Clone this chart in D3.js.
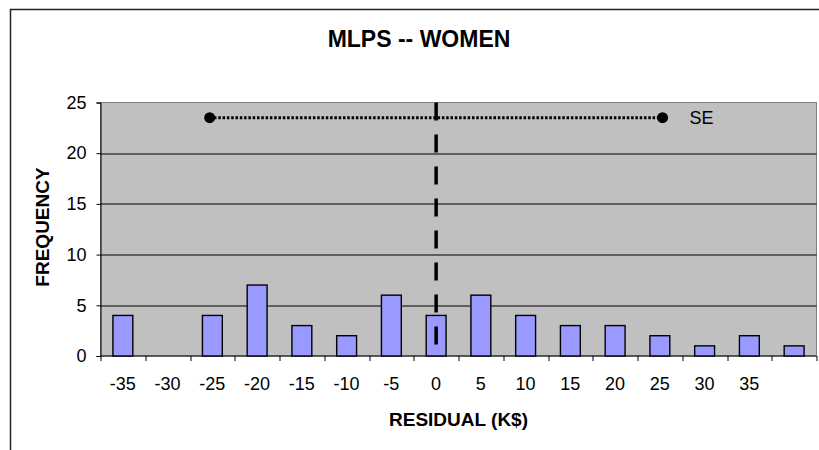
<!DOCTYPE html>
<html>
<head>
<meta charset="utf-8">
<script src="https://cdn.jsdelivr.net/npm/d3@7"></script>
<style>
  body { margin: 0; background: #fff; }
  text { font-family: "Liberation Sans", Arial, sans-serif; fill: #000; }
</style>
</head>
<body>
<div id="vis"></div>
<script>
// residual bins (K$) and counts
var residualBins = [-35, -30, -25, -20, -15, -10, -5, 0, 5, 10, 15, 20, 25, 30, 35, 40];
var frequency = [4, 0, 4, 7, 3, 2, 6, 4, 6, 4, 3, 3, 2, 1, 2, 1];
var binLabels = ["-35", "-30", "-25", "-20", "-15", "-10", "-5", "0", "5", "10", "15", "20", "25", "30", "35", ""];
var yTicks = [0, 5, 10, 15, 20, 25];
var seLimits = [-25.3, 25.3];
var seLevel = 23.5;

var width = 819,
    height = 450,
    margin = {top: 102.5, right: 2.5, bottom: 94, left: 100.5},
    drawWidth = width - margin.left - margin.right,
    drawHeight = height - margin.top - margin.bottom;

var svg = d3.select("#vis").append("svg")
    .attr("width", width)
    .attr("height", height);

// chart border
svg.append("rect")
    .attr("x", 10.5).attr("y", 9.5)
    .attr("width", 830).attr("height", 470)
    .attr("fill", "#fff")
    .attr("stroke", "#222")
    .attr("stroke-width", 1.5);

var g = svg.append("g")
    .attr("transform", "translate(" + margin.left + "," + margin.top + ")");

var x = d3.scaleBand()
    .domain(residualBins)
    .range([0, drawWidth]);

var barWidth = x.bandwidth() / 2.25;

// continuous scale through the band centres, for the reference lines
var xr = d3.scaleLinear()
    .domain([residualBins[0], residualBins[residualBins.length - 1]])
    .range([x(residualBins[0]) + x.bandwidth() / 2, x(residualBins[residualBins.length - 1]) + x.bandwidth() / 2]);

var y = d3.scaleLinear()
    .domain([0, 25])
    .range([drawHeight, 0]);

// plot area
g.append("rect")
    .attr("width", drawWidth)
    .attr("height", drawHeight)
    .attr("fill", "#c0c0c0")
    .attr("stroke", "#808080");

// gridlines
g.selectAll(".grid")
    .data(yTicks.slice(1, -1))
    .enter().append("line")
    .attr("class", "grid")
    .attr("x1", 0).attr("x2", drawWidth)
    .attr("y1", function(d) { return Math.round(y(d)) + 0.5; })
    .attr("y2", function(d) { return Math.round(y(d)) + 0.5; })
    .attr("stroke", "#000");

// y axis
var yAxis = d3.axisLeft(y)
    .tickValues(yTicks)
    .tickSize(4)
    .tickPadding(10);

var gy = g.append("g").call(yAxis);
gy.select(".domain").attr("stroke", "#000");
gy.selectAll("text").style("font-size", "18px").attr("fill", "#000");

// x axis: ticks at band edges, labels at band centres
var gx = g.append("g")
    .attr("transform", "translate(0," + drawHeight + ")");

gx.append("line")
    .attr("x1", 0).attr("x2", drawWidth)
    .attr("stroke", "#000");

var edges = residualBins.map(function(d) { return x(d); }).concat([drawWidth]);
gx.selectAll(".xtick")
    .data(edges)
    .enter().append("line")
    .attr("class", "xtick")
    .attr("x1", function(d) { return Math.round(d) + 0.5; })
    .attr("x2", function(d) { return Math.round(d) + 0.5; })
    .attr("y1", 0).attr("y2", 5)
    .attr("stroke", "#000");

gx.selectAll(".xlabel")
    .data(residualBins)
    .enter().append("text")
    .attr("class", "xlabel")
    .attr("x", function(d) { return x(d) + x.bandwidth() / 2; })
    .attr("y", 34)
    .attr("text-anchor", "middle")
    .style("font-size", "18px")
    .text(function(d, i) { return binLabels[i]; });

// bars
g.selectAll(".bar")
    .data(residualBins)
    .enter().append("rect")
    .attr("class", "bar")
    .attr("x", function(d) { return x(d) + (x.bandwidth() - barWidth) / 2; })
    .attr("width", barWidth)
    .attr("y", function(d, i) { return y(frequency[i]); })
    .attr("height", function(d, i) { return drawHeight - y(frequency[i]); })
    .attr("fill", "#9999ff")
    .attr("stroke", "#000")
    .attr("stroke-width", 1.4);

// zero line
g.append("line")
    .attr("x1", xr(0)).attr("x2", xr(0))
    .attr("y1", y(25)).attr("y2", y(0))
    .attr("stroke", "#000")
    .attr("stroke-width", 3.5)
    .attr("stroke-dasharray", "18,14");

// SE range
g.append("line")
    .attr("x1", xr(seLimits[0])).attr("x2", xr(seLimits[1]))
    .attr("y1", y(seLevel)).attr("y2", y(seLevel))
    .attr("stroke", "#000")
    .attr("stroke-width", 3)
    .attr("stroke-dasharray", "2.5,1.8");

g.selectAll(".sedot")
    .data(seLimits)
    .enter().append("circle")
    .attr("class", "sedot")
    .attr("cx", function(d) { return xr(d); })
    .attr("cy", y(seLevel))
    .attr("r", 5.5)
    .attr("fill", "#000");

g.append("text")
    .attr("x", xr(seLimits[1]) + 27)
    .attr("y", y(seLevel))
    .attr("dy", "0.35em")
    .style("font-size", "18px")
    .text("SE");

// titles
svg.append("text")
    .attr("x", 419)
    .attr("y", 47)
    .attr("text-anchor", "middle")
    .style("font-size", "23px")
    .style("font-weight", "bold")
    .text("MLPS -- WOMEN");

svg.append("text")
    .attr("x", margin.left + drawWidth / 2)
    .attr("y", 426)
    .attr("text-anchor", "middle")
    .style("font-size", "19px")
    .style("font-weight", "bold")
    .text("RESIDUAL (K$)");

svg.append("text")
    .attr("transform", "translate(49,227) rotate(-90)")
    .attr("text-anchor", "middle")
    .style("font-size", "19px")
    .style("font-weight", "bold")
    .text("FREQUENCY");
</script>
</body>
</html>
